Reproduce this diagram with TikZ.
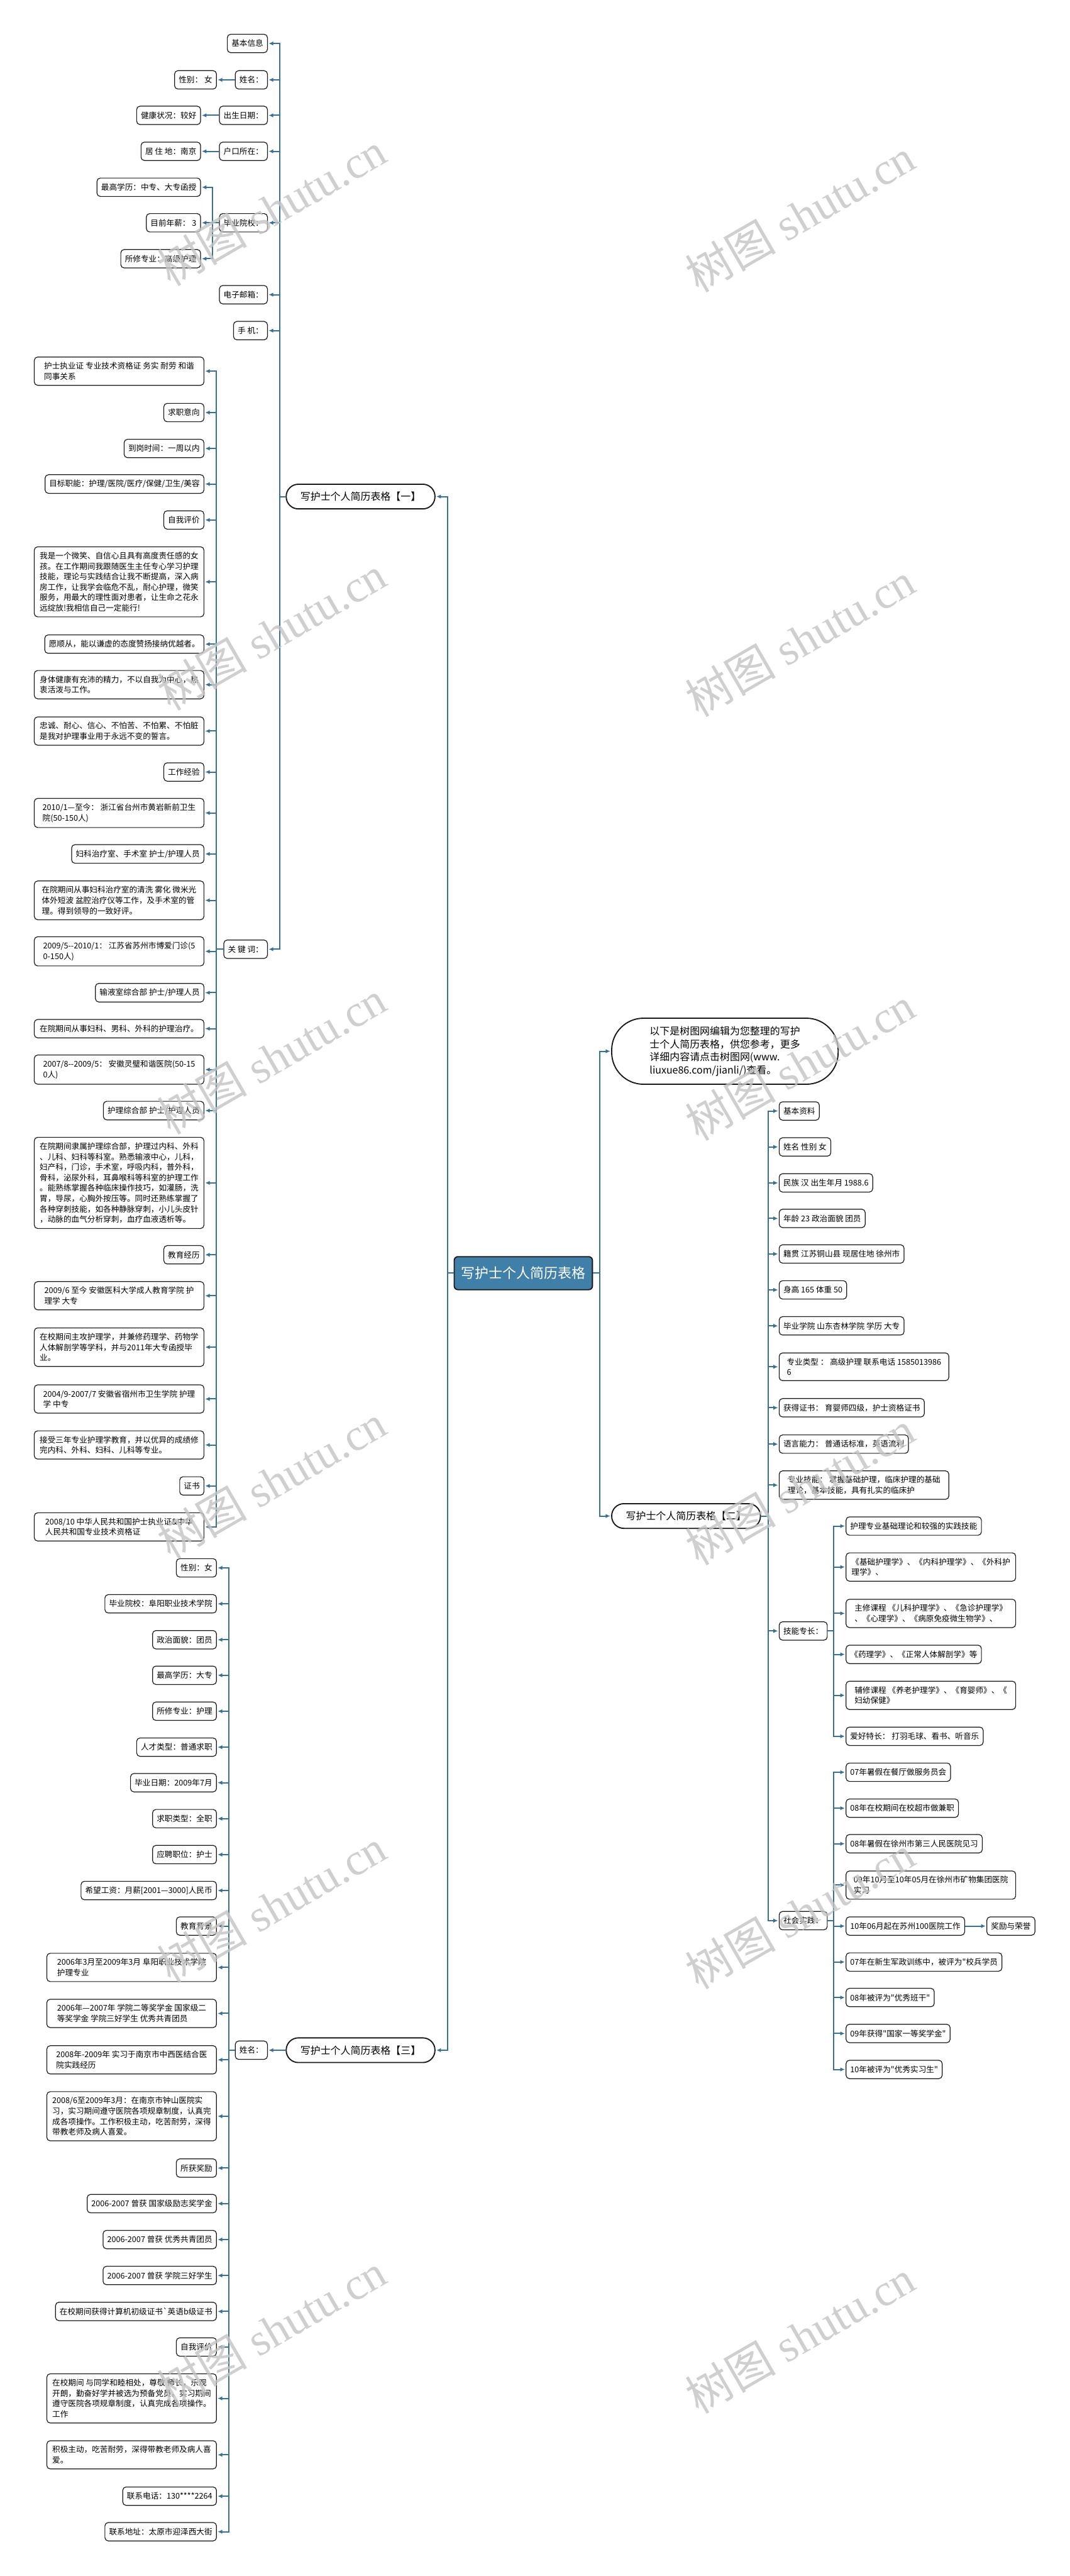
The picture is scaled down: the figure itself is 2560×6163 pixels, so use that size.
\documentclass[tikz,border=0pt]{standalone}
\usepackage{fontspec}
\usetikzlibrary{arrows.meta}
\newfontfamily\cjk{Noto Sans CJK SC}
\newfontfamily\wmserif{Liberation Serif}
\definecolor{linecol}{RGB}{57,112,146}
\definecolor{rootfill}{RGB}{64,128,168}
\definecolor{nodeborder}{RGB}{25,25,25}
\definecolor{wmgray}{RGB}{196,196,196}
\tikzset{
  leaf/.style={draw=nodeborder, line width=1.8pt, rounded corners=8pt, fill=white,
    font={\cjk\fontsize{19}{25}\selectfont}, inner xsep=10pt, inner ysep=12.5pt,
    minimum height=44pt, align=left},
  wide/.style={minimum width=406pt},
  titlebox/.style={draw=nodeborder, line width=2.8pt, rounded corners=29pt, fill=white,
    font={\cjk\fontsize{24}{30}\selectfont}, minimum width=356pt, minimum height=59pt},
  rootbox/.style={draw=nodeborder, fill=rootfill, text=white, line width=2.8pt, rounded corners=9pt,
    font={\cjk\fontsize{33}{40}\selectfont}, minimum width=331pt, minimum height=79pt},
  introbox/.style={draw=nodeborder, line width=2.8pt, rounded corners=76pt, fill=white,
    minimum width=542pt, minimum height=158pt, align=left,
    font={\cjk\fontsize{24}{31}\selectfont}},
  link/.style={draw=linecol, line width=3pt},
  arr/.style={link, -{Latex[length=11pt,width=10pt]}, shorten >=2pt},
  wm/.style={text=wmgray, rotate=30, opacity=.8, font={\wmserif\fontsize{108}{110}\selectfont}}
}
\begin{document}
\begin{tikzpicture}[x=1pt,y=-1pt]
\fill[white] (0,0) rectangle (2560,6163);
\useasboundingbox (0,0) rectangle (2560,6163);
% trunk coordinates
\coordinate (T0) at (1071,0);
\coordinate (TR) at (1435,0);
\coordinate (T1) at (670,0);
\coordinate (T1b) at (509,0);
\coordinate (T1c) at (517,0);
\coordinate (T3) at (548,0);
\coordinate (T2) at (1838,0);
\coordinate (T2b) at (1995,0);
% root and main branches
\node[rootbox] (root) at (1252.5,3046) {写护士个人简历表格};
\node[titlebox] (s1) at (863,1188) {写护士个人简历表格【一】};
\node[titlebox] (s2) at (1642,3627) {写护士个人简历表格【二】};
\node[titlebox] (s3) at (863,4905) {写护士个人简历表格【三】};
\node[introbox] (intro) at (1735,2515) {以下是树图网编辑为您整理的写护\\士个人简历表格，供您参考，更多\\详细内容请点击树图网(www.\\liuxue86.com/jianli/)查看。};
% section 1
\node[leaf, anchor=east] (a1) at (641,104) {基本信息};
\node[leaf, anchor=east] (a2) at (641,191) {姓名：};
\node[leaf, anchor=east] (a2c) at (519,191) {性别：\ 女};
\node[leaf, anchor=east] (a3) at (641,276) {出生日期：};
\node[leaf, anchor=east] (a3c) at (481,276) {健康状况：较好};
\node[leaf, anchor=east] (a4) at (641,362) {户口所在：};
\node[leaf, anchor=east] (a4c) at (481,362) {居 住 地：南京};
\node[leaf, anchor=east] (a5) at (641,533) {毕业院校：};
\node[leaf, anchor=east] (a5a) at (481,448) {最高学历：中专、大专函授};
\node[leaf, anchor=east] (a5b) at (481,533) {目前年薪：\ 3};
\node[leaf, anchor=east] (a5c) at (481,619) {所修专业：高级护理};
\node[leaf, anchor=east] (a6) at (641,705) {电子邮箱：};
\node[leaf, anchor=east] (a7) at (641,791) {手 机：};
\node[leaf, anchor=east] (a8) at (641,2271) {关 键 词：};
\node[leaf, wide, anchor=east] (k1) at (489,888) {护士执业证 专业技术资格证 务实 耐劳 和谐\\同事关系};
\node[leaf, anchor=east] (k2) at (489,987) {求职意向};
\node[leaf, anchor=east] (k3) at (489,1073) {到岗时间：一周以内};
\node[leaf, anchor=east] (k4) at (489,1158) {目标职能：护理/医院/医疗/保健/卫生/美容};
\node[leaf, anchor=east] (k5) at (489,1244) {自我评价};
\node[leaf, wide, anchor=east] (k6) at (489,1392) {我是一个微笑、自信心且具有高度责任感的女\\孩。在工作期间我跟随医生主任专心学习护理\\技能，理论与实践结合让我不断提高，深入病\\房工作，让我学会临危不乱，耐心护理，微笑\\服务，用最大的理性面对患者，让生命之花永\\远绽放!我相信自己一定能行!};
\node[leaf, anchor=east] (k7) at (489,1541) {愿顺从，能以谦虚的态度赞扬接纳优越者。};
\node[leaf, wide, anchor=east] (k8) at (489,1638) {身体健康有充沛的精力，不以自我为中心，热\\衷活泼与工作。};
\node[leaf, wide, anchor=east] (k9) at (489,1749) {忠诚、耐心、信心、不怕苦、不怕累、不怕脏\\是我对护理事业用于永远不变的誓言。};
\node[leaf, anchor=east] (k10) at (489,1847) {工作经验};
\node[leaf, wide, anchor=east] (k11) at (489,1945) {2010/1—至今：\ 浙江省台州市黄岩新前卫生\\院(50-150人)};
\node[leaf, anchor=east] (k12) at (489,2043) {妇科治疗室、手术室 护士/护理人员};
\node[leaf, wide, anchor=east] (k13) at (489,2154) {在院期间从事妇科治疗室的清洗 雾化 微米光\\体外短波 盆腔治疗仪等工作，及手术室的管\\理。得到领导的一致好评。};
\node[leaf, wide, anchor=east] (k14) at (489,2276) {2009/5--2010/1：\ 江苏省苏州市博爱门诊(5\\0-150人)};
\node[leaf, anchor=east] (k15) at (489,2375) {输液室综合部 护士/护理人员};
\node[leaf, wide, anchor=east] (k16) at (489,2461) {在院期间从事妇科、男科、外科的护理治疗。};
\node[leaf, wide, anchor=east] (k17) at (489,2559) {2007/8--2009/5：\ 安徽灵璧和谐医院(50-15\\0人)};
\node[leaf, anchor=east] (k18) at (489,2657) {护理综合部 护士/护理人员};
\node[leaf, wide, anchor=east] (k19) at (489,2830) {在院期间隶属护理综合部，护理过内科、外科\\、儿科、妇科等科室。熟悉输液中心，儿科，\\妇产科，门诊，手术室，呼吸内科，普外科，\\骨科，泌尿外科，耳鼻喉科等科室的护理工作\\。能熟练掌握各种临床操作技巧，如灌肠，洗\\胃，导尿，心胸外按压等。同时还熟练掌握了\\各种穿刺技能，如各种静脉穿刺，小儿头皮针\\，动脉的血气分析穿刺，血疗血液透析等。};
\node[leaf, anchor=east] (k20) at (489,3002) {教育经历};
\node[leaf, wide, anchor=east] (k21) at (489,3100) {2009/6 至今 安徽医科大学成人教育学院 护\\理学 大专};
\node[leaf, wide, anchor=east] (k22) at (489,3223) {在校期间主攻护理学，并兼修药理学、药物学\\人体解剖学等学科，并与2011年大专函授毕\\业。};
\node[leaf, wide, anchor=east] (k23) at (489,3347) {2004/9-2007/7 安徽省宿州市卫生学院 护理\\学 中专};
\node[leaf, wide, anchor=east] (k24) at (489,3457) {接受三年专业护理学教育，并以优异的成绩修\\完内科、外科、妇科、儿科等专业。};
\node[leaf, anchor=east] (k25) at (489,3555) {证书};
\node[leaf, wide, anchor=east] (k26) at (489,3653) {2008/10 中华人民共和国护士执业证\&中华\\人民共和国专业技术资格证};
% section 3
\node[leaf, anchor=east] (c0) at (641,4905) {姓名：};
\node[leaf, anchor=east] (m1) at (519,3751) {性别：女};
\node[leaf, anchor=east] (m2) at (519,3837) {毕业院校：阜阳职业技术学院};
\node[leaf, anchor=east] (m3) at (519,3923) {政治面貌：团员};
\node[leaf, anchor=east] (m4) at (519,4008) {最高学历：大专};
\node[leaf, anchor=east] (m5) at (519,4094) {所修专业：护理};
\node[leaf, anchor=east] (m6) at (519,4180) {人才类型：普通求职};
\node[leaf, anchor=east] (m7) at (519,4265) {毕业日期：2009年7月};
\node[leaf, anchor=east] (m8) at (519,4351) {求职类型：全职};
\node[leaf, anchor=east] (m9) at (519,4437) {应聘职位：护士};
\node[leaf, anchor=east] (m10) at (519,4523) {希望工资：月薪[2001—3000]人民币};
\node[leaf, anchor=east] (m11) at (519,4608) {教育背景};
\node[leaf, wide, anchor=east] (m12) at (519,4707) {2006年3月至2009年3月 阜阳职业技术学院\\护理专业};
\node[leaf, wide, anchor=east] (m13) at (519,4817) {2006年—2007年 学院二等奖学金 国家级二\\等奖学金 学院三好学生 优秀共青团员};
\node[leaf, wide, anchor=east] (m14) at (519,4928) {2008年-2009年 实习于南京市中西医结合医\\院实践经历};
\node[leaf, wide, anchor=east] (m15) at (519,5063) {2008/6至2009年3月：在南京市钟山医院实\\习，实习期间遵守医院各项规章制度，认真完\\成各项操作。工作积极主动，吃苦耐劳，深得\\带教老师及病人喜爱。};
\node[leaf, anchor=east] (m16) at (519,5187) {所获奖励};
\node[leaf, anchor=east] (m17) at (519,5272) {2006-2007 曾获 国家级励志奖学金};
\node[leaf, anchor=east] (m18) at (519,5358) {2006-2007 曾获 优秀共青团员};
\node[leaf, anchor=east] (m19) at (519,5444) {2006-2007 曾获 学院三好学生};
\node[leaf, anchor=east] (m20) at (519,5530) {在校期间获得计算机初级证书\char"0060 英语b级证书};
\node[leaf, anchor=east] (m21) at (519,5615) {自我评价};
\node[leaf, wide, anchor=east] (m22) at (519,5738) {在校期间 与同学和睦相处，尊敬 师长，乐观\\开朗，勤奋好学并被选为预备党员。实习期间\\遵守医院各项规章制度，认真完成各项操作。\\工作};
\node[leaf, wide, anchor=east] (m23) at (519,5873) {积极主动，吃苦耐劳，深得带教老师及病人喜\\爱。};
\node[leaf, anchor=east] (m24) at (519,5972) {联系电话：130****2264};
\node[leaf, anchor=east] (m25) at (519,6057) {联系地址：太原市迎泽西大街};
% section 2
\node[leaf, anchor=west] (r1) at (1864,2658) {基本资料};
\node[leaf, anchor=west] (r2) at (1864,2744) {姓名 性别 女};
\node[leaf, anchor=west] (r3) at (1864,2830) {民族 汉 出生年月 1988.6};
\node[leaf, anchor=west] (r4) at (1864,2915) {年龄 23 政治面貌 团员};
\node[leaf, anchor=west] (r5) at (1864,3000) {籍贯 江苏铜山县 现居住地 徐州市};
\node[leaf, anchor=west] (r6) at (1864,3086) {身高 165 体重 50};
\node[leaf, anchor=west] (r7) at (1864,3172) {毕业学院 山东杏林学院 学历 大专};
\node[leaf, wide, anchor=west] (r8) at (1864,3270) {专业类型 ： 高级护理 联系电话 1585013986\\6};
\node[leaf, anchor=west] (r9) at (1864,3368) {获得证书：\ 育婴师四级，护士资格证书};
\node[leaf, anchor=west] (r10) at (1864,3455) {语言能力：\ 普通话标准，英语流利};
\node[leaf, wide, anchor=west] (r11) at (1864,3553) {专业技能：\ 掌握基础护理，临床护理的基础\\理论，基本技能，具有扎实的临床护};
\node[leaf, anchor=west] (r12) at (1864,3902) {技能专长：};
\node[leaf, anchor=west] (r13) at (1864,4595) {社会实践：};
\node[leaf, anchor=west] (p1) at (2024,3651) {护理专业基础理论和较强的实践技能};
\node[leaf, wide, anchor=west] (p2) at (2024,3749) {《基础护理学》、《内科护理学》、《外科护\\理学》、};
\node[leaf, wide, anchor=west] (p3) at (2024,3860) {主修课程 《儿科护理学》、《急诊护理学》\\、《心理学》、《病原免疫微生物学》、};
\node[leaf, anchor=west] (p4) at (2024,3958) {《药理学》、《正常人体解剖学》等};
\node[leaf, wide, anchor=west] (p5) at (2024,4056) {辅修课程 《养老护理学》、《育婴师》、《\\妇幼保健》};
\node[leaf, anchor=west] (p6) at (2024,4154) {爱好特长：\ 打羽毛球、看书、听音乐};
\node[leaf, anchor=west] (q1) at (2024,4240) {07年暑假在餐厅做服务员会};
\node[leaf, anchor=west] (q2) at (2024,4326) {08年在校期间在校超市做兼职};
\node[leaf, anchor=west] (q3) at (2024,4411) {08年暑假在徐州市第三人民医院见习};
\node[leaf, wide, anchor=west] (q4) at (2024,4510) {09年10月至10年05月在徐州市矿物集团医院\\实习};
\node[leaf, anchor=west] (q5) at (2024,4608) {10年06月起在苏州100医院工作};
\node[leaf, anchor=west] (q5a) at (2361,4608) {奖励与荣誉};
\node[leaf, anchor=west] (q6) at (2024,4694) {07年在新生军政训练中，被评为"校兵学员};
\node[leaf, anchor=west] (q7) at (2024,4779) {08年被评为"优秀班干"};
\node[leaf, anchor=west] (q8) at (2024,4865) {09年获得"国家一等奖学金"};
\node[leaf, anchor=west] (q9) at (2024,4951) {10年被评为"优秀实习生"};
% connectors
\foreach \c in {s1,s3} \draw[arr] (root.west) -- (root.west -| T0) |- (\c.east);
\foreach \c in {intro,s2} \draw[arr] (root.east) -- (root.east -| TR) |- (\c.west);
\foreach \c in {a1,a2,a3,a4,a5,a6,a7,a8} \draw[arr] (s1.west) -- (s1.west -| T1) |- (\c.east);
\draw[arr] (a2.west) -- (a2c.east);
\draw[arr] (a3.west) -- (a3c.east);
\draw[arr] (a4.west) -- (a4c.east);
\foreach \c in {a5a,a5b,a5c} \draw[arr] (a5.west) -- (a5.west -| T1b) |- (\c.east);
\foreach \i in {1,...,26} \draw[arr] (a8.west) -- (a8.west -| T1c) |- (k\i.east);
\draw[arr] (s3.west) -- (c0.east);
\foreach \i in {1,...,25} \draw[arr] (c0.west) -- (c0.west -| T3) |- (m\i.east);
\foreach \i in {1,...,13} \draw[arr] (s2.east) -- (s2.east -| T2) |- (r\i.west);
\foreach \i in {1,...,6} \draw[arr] (r12.east) -- (r12.east -| T2b) |- (p\i.west);
\foreach \i in {1,...,9} \draw[arr] (r13.east) -- (r13.east -| T2b) |- (q\i.west);
\draw[arr] (q5.east) -- (q5a.west);
% watermarks
\foreach \y in {500,1515,2530,3545,4560,5575} {
  \node[wm] at (650,\y) {{\cjk 树图} shutu.cn};
  \node[wm] at (1915,\y+15) {{\cjk 树图} shutu.cn};
}
\end{tikzpicture}
\end{document}
